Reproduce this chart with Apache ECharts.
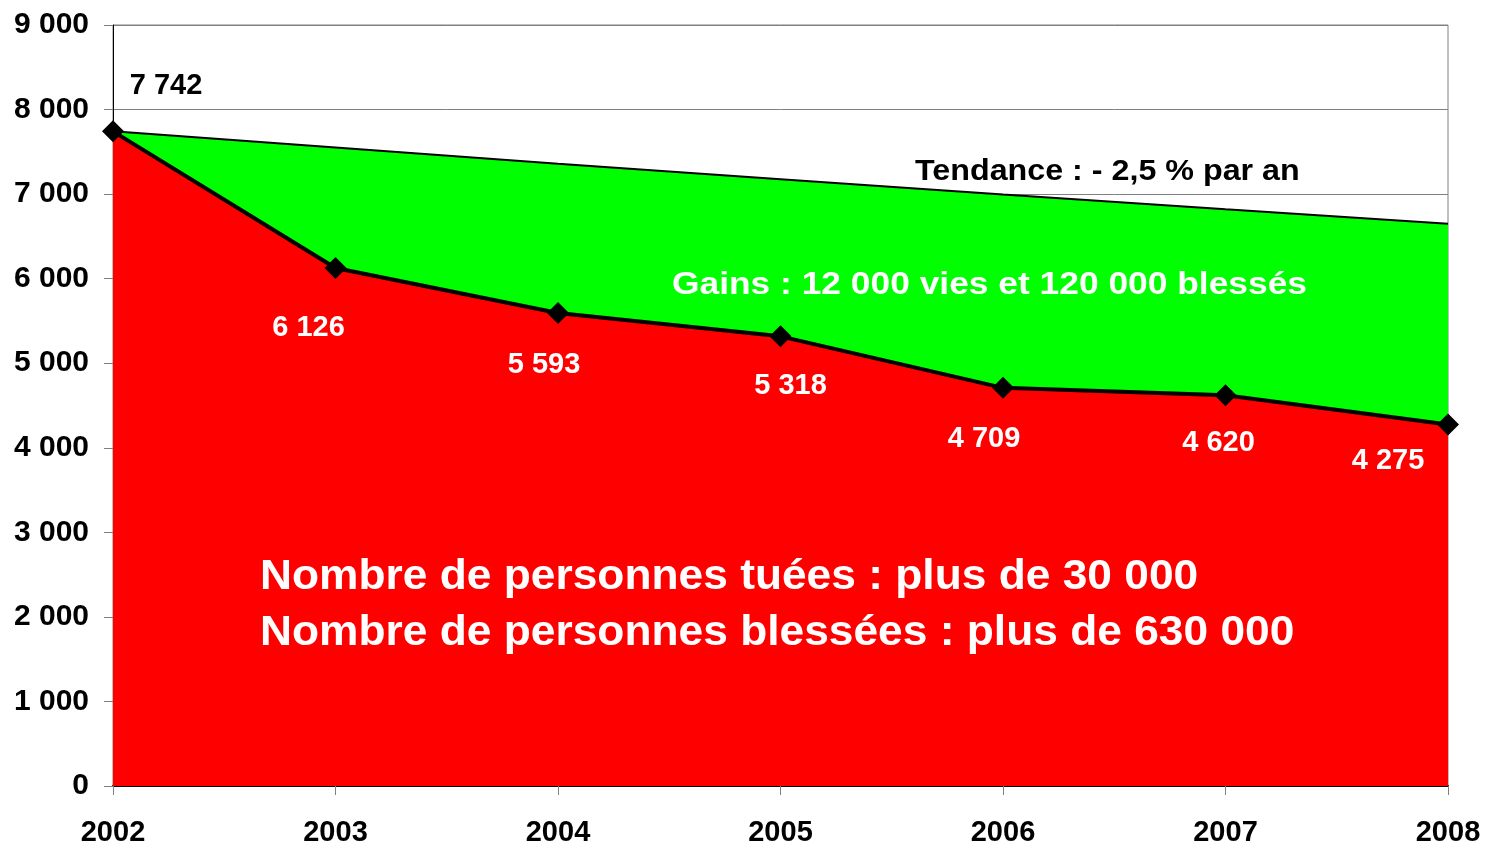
<!DOCTYPE html>
<html>
<head>
    <meta charset="utf-8">
    <title>Personnes tuées 2002-2008</title>
    <script src="https://cdn.jsdelivr.net/npm/echarts@6.0.0/dist/echarts.min.js"></script>
</head>
<style>
    body { margin: 0; background: #fff; overflow: hidden; }
</style>
<body>
<div id="main" style="width: 1489px; height: 847px;"></div>
<script>
const years = ['2002', '2003', '2004', '2005', '2006', '2007', '2008'];
const tues = [7742, 6126, 5593, 5318, 4709, 4620, 4275];
// tendance -2,5 % par an
const tendance = [7742, 7550, 7360, 7175, 6995, 6820, 6650];
const yTicks = [0, 1000, 2000, 3000, 4000, 5000, 6000, 7000, 8000, 9000];

// décalage des étiquettes par point
const labelOffsets = [[53, -45], [-27, 60], [-14, 52], [10, 50], [-19, 51], [-7, 48], [-60, 36]];

const font = '"Liberation Sans", Arial, sans-serif';
const fmt = v => String(v).replace(/\B(?=(\d{3})+(?!\d))/g, ' ');

let myChart = echarts.init(document.getElementById('main'));

myChart.setOption({
    animation: false,
    grid: {
        left: 113, right: 41, top: 25, bottom: 60,
        show: true, borderColor: '#808080', borderWidth: 1
    },
    xAxis: {
        type: 'category', data: years, boundaryGap: false,
        axisLine: { lineStyle: { color: '#000', width: 2 } },
        axisTick: { show: true, length: 9, lineStyle: { color: '#808080' } },
        axisLabel: { color: '#000', fontFamily: font, fontWeight: 'bold', fontSize: 29, margin: 32 },
        splitLine: { show: false }
    },
    yAxis: {
        type: 'value', min: yTicks[0], max: yTicks[yTicks.length - 1], interval: 1000,
        axisLine: { show: true, lineStyle: { color: '#000', width: 1 } },
        axisTick: { show: true, length: 9, lineStyle: { color: '#808080' } },
        axisLabel: { color: '#000', fontFamily: font, fontWeight: 'bold', fontSize: 30, margin: 24, formatter: fmt },
        splitLine: { show: true, lineStyle: { color: '#808080', width: 1 } }
    },
    series: [
        {
            name: 'Tendance', type: 'line', data: tendance,
            symbol: 'none', z: 2,
            lineStyle: { color: '#000', width: 2 },
            areaStyle: { color: '#00ff00', opacity: 1, origin: 'start' }
        },
        {
            name: 'Tués', type: 'line', z: 3,
            data: tues.map((v, i) => ({
                value: v,
                label: {
                    offset: labelOffsets[i],
                    color: i === 0 ? '#000' : '#fff'
                }
            })),
            symbol: 'diamond', symbolSize: 22,
            itemStyle: { color: '#000' },
            lineStyle: { color: '#000', width: 4 },
            areaStyle: { color: '#ff0000', opacity: 1, origin: 'start' },
            label: {
                show: true, position: 'inside', fontFamily: font, fontWeight: 'bold', fontSize: 29,
                formatter: p => fmt(p.value)
            }
        }
    ],
    graphic: [
        {
            type: 'text', left: 915, top: 157, z: 10, scaleX: 1.075,
            style: { text: 'Tendance : - 2,5 % par an', fill: '#000', font: 'bold 30px ' + font }
        },
        {
            type: 'text', left: 672, top: 269, z: 10, scaleX: 1.105,
            style: { text: 'Gains : 12 000 vies et 120 000 blessés', fill: '#fff', font: 'bold 32px ' + font }
        },
        {
            type: 'text', left: 260, top: 556, z: 10, scaleX: 1.055,
            style: { text: 'Nombre de personnes tuées : plus de 30 000', fill: '#fff', font: 'bold 42px ' + font }
        },
        {
            type: 'text', left: 260, top: 612, z: 10, scaleX: 1.055,
            style: { text: 'Nombre de personnes blessées : plus de 630 000', fill: '#fff', font: 'bold 42px ' + font }
        }
    ]
});
</script>
</body>
</html>
